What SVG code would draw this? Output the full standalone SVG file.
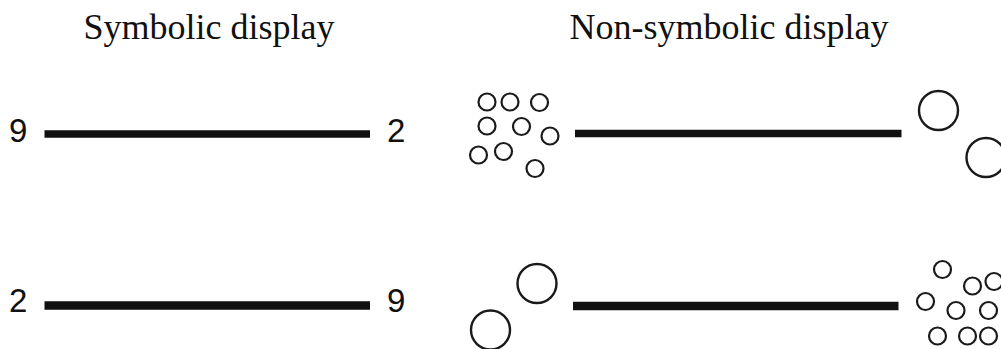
<svg xmlns="http://www.w3.org/2000/svg" width="1001" height="349" viewBox="0 0 1001 349">
<style>
.title{font-family:"Liberation Serif","Times New Roman",serif;font-size:36px;fill:#111;text-anchor:middle}
.num{font-family:"Liberation Sans",Arial,sans-serif;font-size:33px;fill:#111}
.s{fill:none;stroke:#1a1a1a;stroke-width:2.2}
.b{fill:none;stroke:#1a1a1a;stroke-width:2.4}
.bar{stroke:#111;stroke-linecap:butt}
</style>
<rect width="1001" height="349" fill="#fff"/>
<g id="title-symbolic"><text class="title" x="209" y="39">Symbolic display</text></g>
<g id="title-nonsymbolic"><text class="title" x="729" y="39">Non-symbolic display</text></g>
<g id="sym-top-left"><text class="num" x="9" y="141.5">9</text></g>
<g id="sym-top-right"><text class="num" x="387" y="141.5">2</text></g>
<g id="sym-bottom-left"><text class="num" x="9" y="311.5">2</text></g>
<g id="sym-bottom-right"><text class="num" x="387" y="311.5">9</text></g>
<g id="nonsym-top-left">
<circle class="s" cx="487" cy="102" r="8.5"/>
<circle class="s" cx="510" cy="102" r="8.5"/>
<circle class="s" cx="539.5" cy="102.5" r="8.5"/>
<circle class="s" cx="487" cy="126" r="8.5"/>
<circle class="s" cx="521.5" cy="126.5" r="8.5"/>
<circle class="s" cx="550" cy="136" r="8.5"/>
<circle class="s" cx="478.5" cy="155" r="8.5"/>
<circle class="s" cx="503.5" cy="151.5" r="8.5"/>
<circle class="s" cx="535" cy="168.5" r="8.5"/>
</g>
<g id="nonsym-top-right">
<circle class="b" cx="938.5" cy="110.5" r="19.5"/>
<circle class="b" cx="986" cy="157.5" r="19.5"/>
</g>
<g id="nonsym-bottom-left">
<circle class="b" cx="537" cy="283.5" r="19.5"/>
<circle class="b" cx="490.5" cy="330" r="19.5"/>
</g>
<g id="nonsym-bottom-right">
<circle class="s" cx="942.5" cy="269.5" r="8.5"/>
<circle class="s" cx="972.5" cy="286" r="8.5"/>
<circle class="s" cx="994" cy="281.5" r="8.5"/>
<circle class="s" cx="925.5" cy="301.5" r="8.5"/>
<circle class="s" cx="956" cy="310.5" r="8.5"/>
<circle class="s" cx="988.5" cy="310.5" r="8.5"/>
<circle class="s" cx="937.5" cy="336" r="8.5"/>
<circle class="s" cx="967.5" cy="336" r="8.5"/>
<circle class="s" cx="988.5" cy="336" r="8.5"/>
</g>
<g id="connectors">
<line class="bar" x1="44.5" y1="134" x2="370" y2="134" stroke-width="7.5"/>
<line class="bar" x1="44.5" y1="305.5" x2="370" y2="305.5" stroke-width="8.5"/>
<line class="bar" x1="575" y1="133.5" x2="901.5" y2="133.5" stroke-width="7.5"/>
<line class="bar" x1="573" y1="306" x2="898.5" y2="306" stroke-width="8.5"/>
</g>
</svg>
